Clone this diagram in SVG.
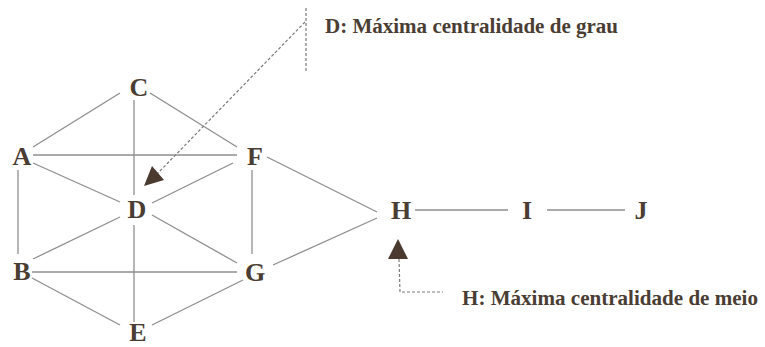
<svg xmlns="http://www.w3.org/2000/svg" width="765" height="347" viewBox="0 0 765 347">
<style>
.e{stroke:#8e8e8e;stroke-width:1.3;fill:none}
.d{stroke:#7a7a7a;stroke-width:1.2;fill:none;stroke-dasharray:3,2}
.n{font-family:"Liberation Serif","Times New Roman",serif;font-weight:bold;font-size:26px;fill:#4a3d33;text-anchor:middle}
.t{font-family:"Liberation Serif","Times New Roman",serif;font-weight:bold;font-size:20.5px;fill:#4a3d33}
.a{fill:#4a3a30}
</style>
<rect width="765" height="347" fill="#ffffff"/>
<g id="connectors">
<line class="e" x1="33" y1="147" x2="120" y2="93"/>
<line class="e" x1="150" y1="93" x2="237" y2="147"/>
<line class="e" x1="134" y1="100" x2="134" y2="195"/>
<line class="e" x1="134" y1="225" x2="134" y2="322"/>
<line class="e" x1="33" y1="155" x2="237" y2="155"/>
<line class="e" x1="33" y1="163" x2="120" y2="202"/>
<line class="e" x1="152" y1="203" x2="233" y2="163"/>
<line class="e" x1="18" y1="170" x2="18" y2="254"/>
<line class="e" x1="252" y1="170" x2="252" y2="254"/>
<line class="e" x1="267" y1="157" x2="377" y2="212"/>
<line class="e" x1="120" y1="217" x2="33" y2="259"/>
<line class="e" x1="152" y1="215" x2="237" y2="263"/>
<line class="e" x1="32" y1="272" x2="237" y2="272"/>
<line class="e" x1="273" y1="265" x2="377" y2="218"/>
<line class="e" x1="32" y1="278" x2="120" y2="325"/>
<line class="e" x1="152" y1="325" x2="243" y2="280"/>
<line class="e" x1="415" y1="210" x2="508" y2="210"/>
<line class="e" x1="547" y1="210" x2="625" y2="210"/>
</g>
<g id="annotation-D">
<line class="d" x1="306" y1="8" x2="306" y2="71"/>
<line class="d" x1="305" y1="22" x2="157" y2="174"/>
<polygon class="a" points="144,186 152,166 164,180"/>
<text class="t" x="325" y="33" textLength="293" lengthAdjust="spacingAndGlyphs">D: Máxima centralidade de grau</text>
</g>
<g id="annotation-H">
<polyline class="d" points="399,259 400,292 443,292"/>
<polygon class="a" points="398,239 388,259 408,259"/>
<text class="t" x="462" y="305" textLength="296" lengthAdjust="spacingAndGlyphs">H: Máxima centralidade de meio</text>
</g>
<g id="node-A"><text class="n" x="22" y="165">A</text></g>
<g id="node-B"><text class="n" x="22" y="280">B</text></g>
<g id="node-C"><text class="n" x="139" y="96">C</text></g>
<g id="node-D"><text class="n" x="137" y="218">D</text></g>
<g id="node-E"><text class="n" x="138" y="341">E</text></g>
<g id="node-F"><text class="n" x="255" y="165">F</text></g>
<g id="node-G"><text class="n" x="255" y="281">G</text></g>
<g id="node-H"><text class="n" x="401" y="219">H</text></g>
<g id="node-I"><text class="n" x="527" y="219">I</text></g>
<g id="node-J"><text class="n" x="641" y="219">J</text></g>
</svg>
